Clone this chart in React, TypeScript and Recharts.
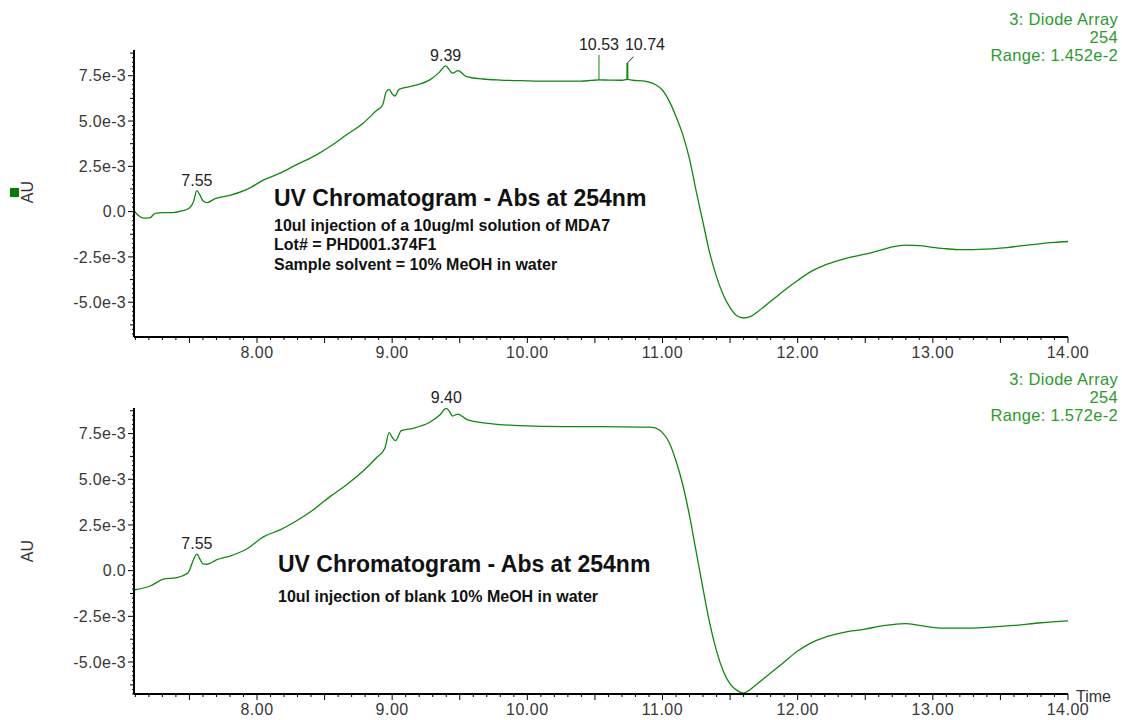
import React from "react";
import { LineChart, Line, XAxis, YAxis, ReferenceDot, ReferenceLine } from "recharts";

const FONT = '"Liberation Sans", Arial, sans-serif';
const TRACE = "#0d8a0d";
const HEAD_GREEN = "#2a9d2a";

// retention time (min) / absorbance (1e-3 AU), sample run
const sampleTime = [
  7.09, 7.12, 7.16, 7.21, 7.245, 7.31, 7.38, 7.45, 7.5, 7.53, 7.555, 7.575, 7.6, 7.63, 7.69, 7.8, 7.93,
  8.05, 8.17, 8.29, 8.44, 8.54, 8.66, 8.785, 8.88, 8.93, 8.955, 8.977, 9.0, 9.02, 9.05, 9.155, 9.278,
  9.35, 9.396, 9.42, 9.446, 9.487, 9.55, 9.67, 9.8, 10.0, 10.2, 10.4, 10.47, 10.53, 10.6, 10.7, 10.74,
  10.78, 10.85, 10.9, 10.95, 11.0, 11.05, 11.1, 11.15, 11.2, 11.25, 11.3, 11.35, 11.4, 11.45, 11.5,
  11.55, 11.6, 11.65, 11.7, 11.8, 11.9, 12.0, 12.1, 12.2, 12.3, 12.4, 12.5, 12.6, 12.7, 12.8, 12.9,
  13.0, 13.1, 13.2, 13.3, 13.5, 13.7, 13.9, 14.0,
];
const sampleAbs = [
  0.05, -0.2, -0.36, -0.33, -0.1, -0.05, -0.05, 0.05, 0.2, 0.55, 1.16, 0.95, 0.6, 0.5, 0.72, 0.9, 1.24,
  1.75, 2.12, 2.58, 3.13, 3.59, 4.23, 4.88, 5.55, 5.9, 6.6, 6.75, 6.5, 6.38, 6.75, 6.94, 7.27,
  7.7, 8.04, 7.85, 7.64, 7.78, 7.45, 7.32, 7.26, 7.22, 7.2, 7.2, 7.24, 7.27, 7.26, 7.25, 7.3,
  7.25, 7.22, 7.15, 7.0, 6.7, 6.1, 5.25, 4.25, 2.9, 1.1, -0.6, -2.3, -3.6, -4.6, -5.3,
  -5.75, -5.87, -5.8, -5.55, -4.95, -4.35, -3.8, -3.3, -2.95, -2.7, -2.5, -2.35, -2.15, -1.95, -1.85, -1.88,
  -1.97, -2.05, -2.1, -2.1, -2.02, -1.85, -1.7, -1.65,
];

// blank run
const blankTime = [
  7.09, 7.21, 7.307, 7.405, 7.49, 7.53, 7.555, 7.58, 7.6, 7.63, 7.7, 7.8, 7.92, 8.05, 8.17, 8.29,
  8.415, 8.54, 8.66, 8.785, 8.88, 8.946, 8.977, 9.0, 9.024, 9.068, 9.155, 9.278, 9.35, 9.4, 9.425,
  9.446, 9.487, 9.55, 9.71, 9.9, 10.1, 10.4, 10.7, 10.9, 10.95, 11.0, 11.05, 11.1, 11.15, 11.2, 11.25,
  11.3, 11.35, 11.4, 11.45, 11.5, 11.55, 11.6, 11.65, 11.7, 11.8, 11.9, 12.0, 12.1, 12.2, 12.3, 12.4,
  12.5, 12.6, 12.7, 12.8, 12.9, 13.0, 13.1, 13.2, 13.4, 13.6, 13.8, 14.0,
];
const blankAbs = [
  -1.06, -0.84, -0.47, -0.38, -0.11, 0.6, 0.9, 0.6, 0.37, 0.35, 0.59, 0.8, 1.17, 1.86, 2.23, 2.72,
  3.32, 4.05, 4.69, 5.45, 6.15, 6.7, 7.55, 7.3, 7.11, 7.66, 7.79, 8.12, 8.5, 8.88, 8.7,
  8.46, 8.57, 8.28, 8.06, 7.95, 7.9, 7.88, 7.87, 7.85, 7.8, 7.55, 7.0, 6.0, 4.7, 3.0, 1.0,
  -1.0, -2.9, -4.4, -5.5, -6.2, -6.55, -6.7, -6.5, -6.2, -5.6, -5.0, -4.4, -3.95, -3.65, -3.45, -3.3,
  -3.2, -3.05, -2.95, -2.9, -3.0, -3.1, -3.15, -3.15, -3.1, -3.0, -2.85, -2.75,
];

// labelled peaks: time, apex
const samplePeakLabels = ["7.55", "9.39"];
const samplePeakTimes = [7.555, 9.396];
const samplePeakAbs = [1.16, 8.04];
const blankPeakLabels = ["7.55", "9.40"];
const blankPeakTimes = [7.555, 9.4];
const blankPeakAbs = [0.9, 8.88];

const xDomain = [7.09, 14];
const sampleYDomain = [-6.92, 8.92];
const blankYDomain = [-6.75, 8.9];

// tick positions every 0.1 min, every 0.25e-3 AU
const timeTicks = Array.from({ length: 70 }, (_, i) => (71 + i) / 10);
const absTicks = Array.from({ length: 63 }, (_, i) => (i - 27) * 0.25);

const sampleData = sampleTime.map((t, i) => ({ t, v: sampleAbs[i] }));
const blankData = blankTime.map((t, i) => ({ t, v: blankAbs[i] }));

function fmtAbs(v: number) {
  if (Math.abs(v) < 1e-9) return "0.0";
  return v.toFixed(1) + "e-3";
}

function TimeTick(props: any) {
  const { x, y, payload } = props;
  const k = Math.round(payload.value * 10);
  const len = k % 5 === 0 ? 6 : 3;
  return (
    <g>
      <line x1={x} x2={x} y1={y} y2={y + len} stroke="#000" strokeWidth={1} />
      {k % 10 === 0 && (
        <text
          x={x}
          y={y + 21}
          textAnchor="middle"
          fontSize={16}
          letterSpacing={0.5}
          fill="#383838"
          fontFamily={FONT}
        >
          {payload.value.toFixed(2)}
        </text>
      )}
    </g>
  );
}

function AbsTick(props: any) {
  const { x, y, payload } = props;
  const k = Math.round(payload.value * 4);
  const len = k % 10 === 0 ? 6 : k % 5 === 0 ? 4 : 2;
  return (
    <g>
      <line x1={x - len} x2={x} y1={y} y2={y} stroke="#000" strokeWidth={1} />
      {k % 10 === 0 && (
        <text
          x={x - 8}
          y={y}
          dy="0.35em"
          textAnchor="end"
          fontSize={16}
          letterSpacing={0.3}
          fill="#383838"
          fontFamily={FONT}
        >
          {fmtAbs(payload.value)}
        </text>
      )}
    </g>
  );
}

const peakLabel = (value: string) => ({
  value,
  position: "top" as const,
  fill: "#222",
  fontSize: 16,
  fontFamily: FONT,
});

function Trace({
  data,
  yDomain,
  top,
  axisHeight,
  children,
}: {
  data: Array<{ t: number; v: number }>;
  yDomain: number[];
  top: number;
  axisHeight: number;
  children?: React.ReactNode;
}) {
  return (
    <LineChart width={1122} height={360} data={data} margin={{ top, right: 54, bottom: 0, left: 0 }}>
      <XAxis
        dataKey="t"
        type="number"
        domain={xDomain}
        allowDataOverflow
        ticks={timeTicks}
        interval={0}
        height={axisHeight}
        tickSize={0}
        tickMargin={0}
        tickLine={false}
        axisLine={{ stroke: "#000", strokeWidth: 2 }}
        tick={(p: any) => <TimeTick {...p} />}
      />
      <YAxis
        type="number"
        domain={yDomain}
        allowDataOverflow
        ticks={absTicks.filter((v) => v >= yDomain[0] && v <= yDomain[1])}
        interval={0}
        width={134}
        tickSize={0}
        tickMargin={0}
        tickLine={false}
        axisLine={{ stroke: "#000", strokeWidth: 2 }}
        tick={(p: any) => <AbsTick {...p} />}
      />
      <Line
        type="monotone"
        dataKey="v"
        stroke={TRACE}
        strokeWidth={1.3}
        dot={false}
        isAnimationActive={false}
      />
      {children}
    </LineChart>
  );
}

export default function App() {
  return (
    <div
      style={{
        position: "absolute",
        left: 0,
        top: 0,
        width: 1122,
        height: 720,
        background: "#fff",
        fontFamily: FONT,
      }}
    >
      <div style={{ position: "absolute", left: 0, top: 0 }}>
        <Trace data={sampleData} yDomain={sampleYDomain} top={50} axisHeight={23}>
          {samplePeakLabels.map((lbl, i) => (
            <ReferenceDot
              key={lbl}
              x={samplePeakTimes[i]}
              y={samplePeakAbs[i]}
              r={0}
              stroke="none"
              label={peakLabel(lbl)}
            />
          ))}
          <ReferenceLine segment={[{ x: 10.53, y: 7.27 }, { x: 10.53, y: 8.65 }]} stroke={TRACE} strokeWidth={1} />
          <ReferenceLine segment={[{ x: 10.74, y: 7.3 }, { x: 10.74, y: 8.2 }]} stroke={TRACE} strokeWidth={2} />
          <ReferenceLine segment={[{ x: 10.74, y: 8.2 }, { x: 10.785, y: 8.55 }]} stroke="#222" strokeWidth={1} />
          <ReferenceDot x={10.53} y={8.65} r={0} stroke="none" label={peakLabel("10.53")} />
          <ReferenceDot x={10.87} y={8.65} r={0} stroke="none" label={peakLabel("10.74")} />
        </Trace>
      </div>
      <div style={{ position: "absolute", left: 0, top: 360 }}>
        <Trace data={blankData} yDomain={blankYDomain} top={48} axisHeight={26}>
          {blankPeakLabels.map((lbl, i) => (
            <ReferenceDot
              key={lbl}
              x={blankPeakTimes[i]}
              y={blankPeakAbs[i]}
              r={0}
              stroke="none"
              label={peakLabel(lbl)}
            />
          ))}
        </Trace>
      </div>

      <svg
        width={1122}
        height={720}
        style={{ position: "absolute", left: 0, top: 0, pointerEvents: "none" }}
        fontFamily={FONT}
      >
        <g fontSize={16.5} fill={HEAD_GREEN} textAnchor="end" letterSpacing={0.3}>
          <text x={1118} y={25}>3: Diode Array</text>
          <text x={1118} y={43}>254</text>
          <text x={1118} y={61}>Range: 1.452e-2</text>
          <text x={1118} y={385}>3: Diode Array</text>
          <text x={1118} y={403}>254</text>
          <text x={1118} y={421}>Range: 1.572e-2</text>
        </g>
        <text x={1076} y={702} fontSize={16} fill="#333">
          Time
        </text>

        <rect x={10} y={188} width={9} height={9} fill="#008000" />
        <text x={33} y={192} fontSize={16} fill="#333" textAnchor="middle" transform="rotate(-90 33 192)">
          AU
        </text>
        <text x={33} y={551} fontSize={16} fill="#333" textAnchor="middle" transform="rotate(-90 33 551)">
          AU
        </text>

        <g fill="#111" fontWeight="bold">
          <text x={274} y={206} fontSize={23}>
            UV Chromatogram - Abs at 254nm
          </text>
          <text x={274} y={231} fontSize={16}>
            10ul injection of a 10ug/ml solution of MDA7
          </text>
          <text x={274} y={250} fontSize={16}>
            Lot# = PHD001.374F1
          </text>
          <text x={274} y={270} fontSize={16}>
            Sample solvent = 10% MeOH in water
          </text>
          <text x={278} y={572} fontSize={23}>
            UV Chromatogram - Abs at 254nm
          </text>
          <text x={278} y={602} fontSize={16}>
            10ul injection of blank 10% MeOH in water
          </text>
        </g>
      </svg>
    </div>
  );
}
